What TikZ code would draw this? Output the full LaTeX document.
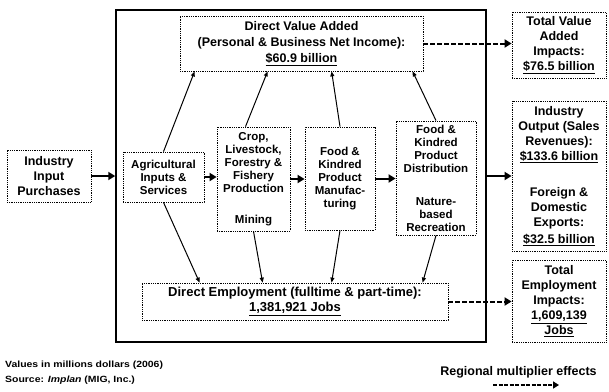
\documentclass[tikz,border=0pt]{standalone}
\usepackage{fontspec}
\setmainfont{Liberation Sans}
\newfontfamily\widefont[FakeStretch=1.16]{Liberation Sans}
\usetikzlibrary{arrows.meta}
\begin{document}
\begin{tikzpicture}[x=1pt,y=-1pt,
  box/.style={draw, densely dotted, line width=0.8pt, align=center, inner sep=0pt,
    font=\bfseries\fontsize{11.5}{13}\selectfont},
  rbox/.style={box, font=\bfseries\fontsize{12.5}{15}\selectfont},
  wbox/.style={box, font=\bfseries\fontsize{12.5}{16}\selectfont},
  outerbox/.style={draw, line width=1.5pt, inner sep=0pt},
  bigarrow/.style={line width=2pt, -{Triangle[length=7pt,width=8pt]}},
  smallarrow/.style={line width=1pt, -{Triangle[length=5pt,width=4pt]}},
  dasharrow/.style={line width=2pt, dash pattern=on 5pt off 2pt, -{Triangle[length=7pt,width=8pt]}},
  legarrow/.style={line width=1.6pt, dash pattern=on 4pt off 1.5pt, -{Triangle[length=6pt,width=7pt]}},
  note/.style={inner sep=0pt, font=\widefont\bfseries\fontsize{9}{11}\selectfont}
]
\useasboundingbox (0,0) rectangle (609,391);

% outer frame
\node[outerbox, minimum width=370pt, minimum height=332pt] (outer) at (301,176) {};

% left
\node[rbox, minimum width=84pt, minimum height=52pt] (inp) at (49,176)
  {Industry\\Input\\Purchases};

% top value added
\node[wbox, minimum width=243pt, minimum height=55pt] (dva) at (301.5,43.5)
  {Direct Value Added\\(Personal \& Business Net Income):\\\underline{\$60.9 billion}};

% inner boxes
\node[box, minimum width=81pt, minimum height=50pt] (ag) at (163.5,177)
  {Agricultural\\Inputs \&\\Services};
\node[box, minimum width=73pt, minimum height=104pt] (crop) at (253.5,179)
  {Crop,\\Livestock,\\Forestry \&\\Fishery\\Production\\[18pt]Mining};
\node[box, minimum width=70pt, minimum height=103pt] (fkm) at (340,178.5)
  {Food \&\\Kindred\\Product\\Manufac-\\turing};
\node[box, minimum width=80pt, minimum height=114pt] (fkd) at (436,178)
  {Food \&\\Kindred\\Product\\Distribution\\[20pt]Nature-\\based\\Recreation};

% employment
\node[wbox, minimum width=306pt, minimum height=37pt, font=\bfseries\fontsize{13}{15}\selectfont] (de) at (295,301.5)
  {Direct Employment (fulltime \& part-time):\\\underline{1,381,921 Jobs}};

% right boxes
\node[rbox, minimum width=94pt, minimum height=66pt] (tva) at (559,45)
  {Total Value\\Added\\Impacts:\\\underline{\$76.5 billion}};
\node[rbox, minimum width=94pt, minimum height=150pt] (io) at (559,176)
  {Industry\\Output (Sales\\Revenues):\\\underline{\$133.6 billion}\\[21pt]Foreign \&\\Domestic\\Exports:\\[2pt]\underline{\$32.5 billion}};
\node[rbox, minimum width=94pt, minimum height=82pt] (te) at (559,301)
  {Total\\Employment\\Impacts:\\\underline{1,609,139}\\\underline{Jobs}};

% horizontal flow arrows
\draw[bigarrow] (inp.east) -- (inp.east -| outer.west);
\draw[bigarrow] (ag.east) -- (ag.east -| crop.west);
\draw[bigarrow] (crop.east) -- (crop.east -| fkm.west);
\draw[bigarrow] (fkm.east) -- (fkm.east -| fkd.west);
\draw[bigarrow] (outer.east) -- (outer.east -| io.west);

% multiplier arrows
\draw[dasharrow] (dva.east) -- (dva.east -| tva.west);
\draw[dasharrow] (de.east) -- (de.east -| te.west);

% to value added
\draw[smallarrow] (ag.north) -- ([xshift=15pt]dva.south west);
\draw[smallarrow] ([xshift=-8pt]crop.north) -- ([xshift=88pt]dva.south west);
\draw[smallarrow] (fkm.north) -- ([xshift=152pt]dva.south west);
\draw[smallarrow] (fkd.north) -- ([xshift=233pt]dva.south west);

% to employment
\draw[smallarrow] (ag.south) -- ([xshift=58pt]de.north west);
\draw[smallarrow] (crop.south) -- ([xshift=121pt]de.north west);
\draw[smallarrow] (fkm.south) -- ([xshift=190pt]de.north west);
\draw[smallarrow] (fkd.south) -- ([xshift=281pt]de.north west);

% notes
\node[note, anchor=base west] (n1) at (5,367) {Values in millions dollars (2006)};
\node[note, anchor=base west] (n2) at (5,382) {Source: \textit{Implan} (MIG, Inc.)};
\node[inner sep=0pt, anchor=base, font=\bfseries\fontsize{12.5}{15}\selectfont] (leg) at (518.5,375) {Regional multiplier effects};
\coordinate (lega) at (493,385);
\coordinate (legb) at (559,385);
\draw[legarrow] (lega) -- (legb);
\end{tikzpicture}
\end{document}
